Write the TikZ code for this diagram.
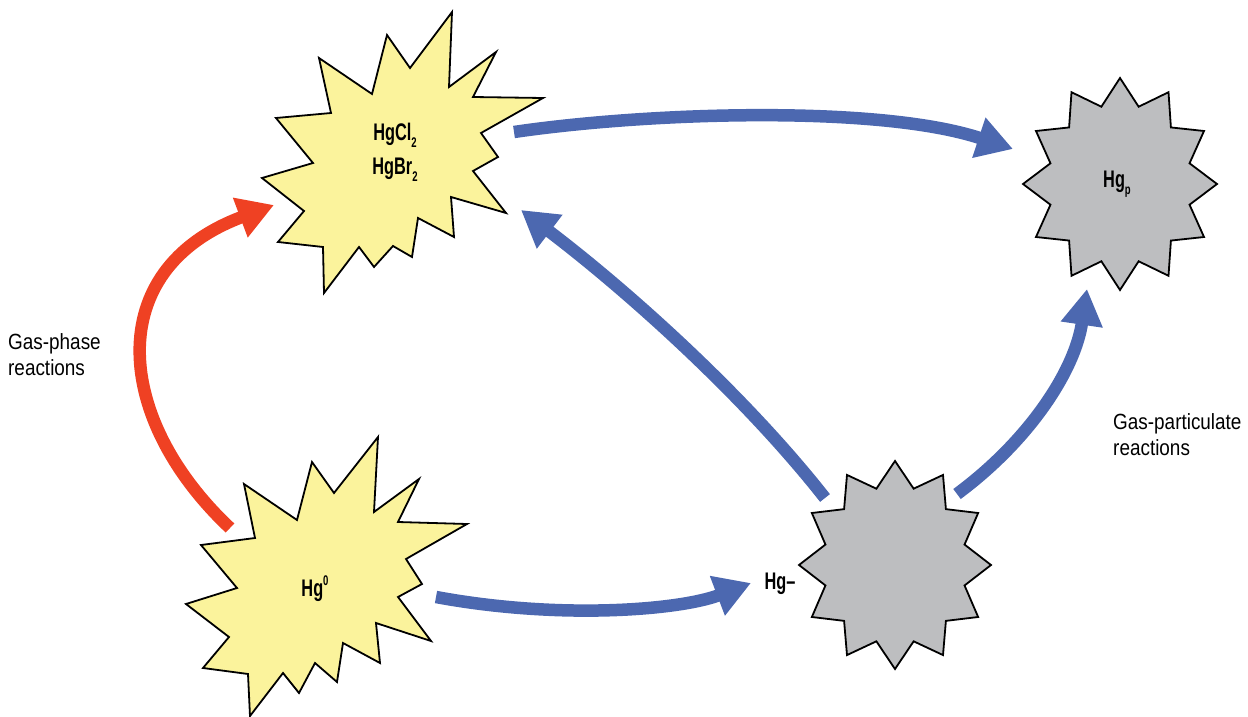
\documentclass[tikz,border=0pt]{standalone}
\usepackage{fontspec}
\setmainfont{Liberation Sans}[FakeStretch=0.86]
\newfontfamily\labfont{Liberation Sans}[FakeStretch=0.68]
\usetikzlibrary{arrows.meta}
\definecolor{arrblue}{HTML}{4C68B0}
\definecolor{arrred}{HTML}{EF4123}
\definecolor{staryellow}{HTML}{FBF39C}
\definecolor{stargray}{HTML}{BDBEC0}
\newcommand\sbs[1]{\raisebox{-0.3em}{\fontsize{14}{14}\selectfont #1}}
\newcommand\sps[1]{\raisebox{0.45em}{\fontsize{14}{14}\selectfont #1}}
\tikzset{
  yellowstar/.style={fill=staryellow, draw=black, line width=1.8pt, line join=miter},
  graystar/.style={fill=stargray, draw=black, line width=1.8pt, line join=miter},
  lab/.style={font=\labfont\bfseries\fontsize{24}{24}\selectfont, inner sep=0pt, anchor=base},
  note/.style={font=\fontsize{22}{26}\selectfont, inner sep=0pt, align=left, anchor=base west},
  bluearrow/.style={draw=arrblue, line width=12.5pt, -{Triangle[length=36pt,width=40pt]}},
  redarrow/.style={draw=arrred, line width=12.5pt, -{Triangle[length=36pt,width=40pt]}}
}
\begin{document}
\begin{tikzpicture}[x=1pt,y=-1pt]
\useasboundingbox (0,0) rectangle (1248,717);

% HgCl2 / HgBr2 star
\draw[yellowstar] (452,12) -- (449,87) -- (496,52) -- (473,97) -- (543,98) -- (481,133) -- (498,157) -- (473,171) -- (506,213) -- (451,197) -- (454,237) -- (418,218) -- (412,257) -- (393,246) -- (374,267) -- (359,247) -- (324,293) -- (323,247) -- (278,242) -- (304,211) -- (262,178) -- (313,163) -- (276,118) -- (331,113) -- (319,58) -- (372,94) -- (387,35) -- (410,68) -- cycle;

% Hg0 star
\draw[yellowstar] (378,437) -- (374,512) -- (419,479) -- (398,522) -- (467,524) -- (406,559) -- (422,584) -- (398,597) -- (431,641) -- (376,623) -- (380,663) -- (343,643) -- (337,682) -- (315,663) -- (299,693) -- (283,673) -- (250,716) -- (248,674) -- (203,668) -- (229,637) -- (186,604) -- (237,588) -- (201,545) -- (255,538) -- (244,484) -- (297,520) -- (312,462) -- (334,493) -- cycle;

% Hg- star
\draw[graystar, shift={(895,565)}] plot[samples=24, domain=0:23, variable=\k] ({(96-24*mod(\k,2))*cos(90+15*\k)}, {(104-25*mod(\k,2))*sin(90+15*\k)}) -- cycle;

% Hgp star
\draw[graystar, shift={(1120,184)}] plot[samples=24, domain=0:23, variable=\k] ({(97-25*mod(\k,2))*cos(90+15*\k)}, {(106-26*mod(\k,2))*sin(90+15*\k)}) -- cycle;

% labels
\node[lab] (hgcl) at (395,140) {HgCl\sbs{2}};
\node[lab] (hgbr) at (395,174) {HgBr\sbs{2}};
\node[lab] (hgzero) at (315,596) {Hg\sps{0}};
\node[lab] (hgp) at (1117,187) {Hg\sbs{p}};
\node[lab] (hgminus) at (780,589) {Hg–};
\node[note] (gasphase) at (8,375) {Gas-phase\\reactions};
\node[note] (gaspart) at (1113,455) {Gas-particulate\\reactions};

% connector end points
\coordinate (a1s) at (514,132);
\coordinate (a1e) at (1013,149);
\coordinate (a2s) at (825,498);
\coordinate (a2e) at (521,210);
\coordinate (a3s) at (436,597);
\coordinate (a3e) at (751,583);
\coordinate (a4s) at (957,494);
\coordinate (a4e) at (1087,289);
\coordinate (a5s) at (230,528);
\coordinate (a5e) at (274,205);

\draw[bluearrow] (a1s) .. controls (650,112) and (880,105) .. (a1e);
\draw[bluearrow] (a2s) .. controls (740,390) and (620,285) .. (a2e);
\draw[bluearrow] (a3s) .. controls (560,620) and (680,610) .. (a3e);
\draw[bluearrow] (a4s) .. controls (1030,440) and (1075,370) .. (a4e);
\draw[redarrow] (a5s) .. controls (115,420) and (100,270) .. (a5e);
\end{tikzpicture}
\end{document}
